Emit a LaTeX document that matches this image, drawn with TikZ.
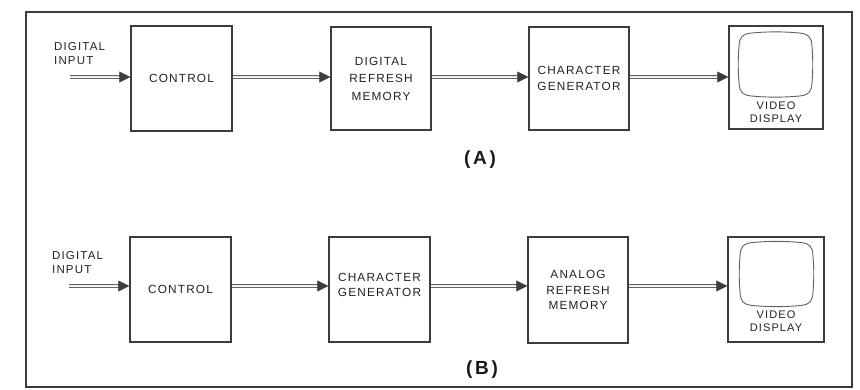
\documentclass[tikz,border=0pt]{standalone}
\usepackage{fontspec}
\usetikzlibrary{arrows.meta,calc}
\newfontfamily\lblfont{Liberation Sans}[LetterSpace=10]
\newfontfamily\capfont{Liberation Sans}[LetterSpace=14]
\definecolor{ink}{HTML}{222222}
\definecolor{lineink}{HTML}{3C3C3C}
\tikzset{
  blk/.style={draw=lineink, line width=1.4pt, text=ink, align=center, inner sep=0pt,
    font=\lblfont\fontsize{11.8}{16}\selectfont},
  blktext/.style={text=ink, align=center, inner sep=0pt, font=\lblfont\fontsize{11.8}{15.5}\selectfont},
  lbl/.style={text=ink, align=left, inner sep=0pt, font=\lblfont\fontsize{11.5}{14}\selectfont},
  vlbl/.style={text=ink, align=center, inner sep=0pt, font=\lblfont\fontsize{11}{13}\selectfont},
  tag/.style={text=black!90, inner sep=0pt, font=\capfont\bfseries\fontsize{19}{22}\selectfont},
  dblarrow/.style={draw=white, line width=0.6pt,
    -{Triangle[length=11pt,width=11pt,color=lineink]},
    preaction={draw=lineink!80, -, line width=0.7pt, double=white!90!black, double distance=2.6pt, shorten >=8pt}},
  frame/.style={draw=lineink, line width=1.5pt},
  crt/.style={draw=gray!75!black, line width=0.9pt}
}
\newcommand{\crtscreen}[2]{%
  \begin{scope}[shift={(#1,#2)}]
  \draw[crt] (-24,-31.5) .. controls (-8,-33) and (8,-33) .. (24,-31.5)
    .. controls (33,-30.5) and (36,-28) .. (36.5,-18)
    .. controls (37.5,-6) and (37.5,6) .. (36.5,18)
    .. controls (36,28) and (33,30.5) .. (24,31.5)
    .. controls (8,33) and (-8,33) .. (-24,31.5)
    .. controls (-33,30.5) and (-36,28) .. (-36.5,18)
    .. controls (-37.5,6) and (-37.5,-6) .. (-36.5,-18)
    .. controls (-36,-28) and (-33,-30.5) .. (-24,-31.5) -- cycle;
  \end{scope}}
\begin{document}
\begin{tikzpicture}[x=1pt,y=-1pt]
\useasboundingbox (0,0) rectangle (860,389);
\draw[frame] (26,12) rectangle (852,387);

% ---- (A) ----
\coordinate (rowA) at (0,77);
\coordinate (inA) at (70,77);
\node[lbl, anchor=west] (diA) at (54,54) {DIGITAL\\INPUT};
\node[blk, minimum width=101pt, minimum height=105pt] (ctrlA) at (181.5,78.5) {CONTROL};
\node[blk, minimum width=100pt, minimum height=103pt, font=\lblfont\fontsize{11.8}{17.5}\selectfont] (drmA) at (381,78.5) {DIGITAL\\REFRESH\\MEMORY};
\node[blk, minimum width=100pt, minimum height=103pt] (cgA) at (579,78.5) {CHARACTER\\GENERATOR};
\node[blk, minimum width=94pt, minimum height=103pt] (vdA) at (776,77.5) {};
\crtscreen{775.5}{64.5}
\node[vlbl] (vtA) at (776,112.5) {VIDEO\\DISPLAY};
\draw[dblarrow] (inA) -- (ctrlA.west |- rowA);
\draw[dblarrow] (ctrlA.east |- rowA) -- (drmA.west |- rowA);
\draw[dblarrow] (drmA.east |- rowA) -- (cgA.west |- rowA);
\draw[dblarrow] (cgA.east |- rowA) -- (vdA.west |- rowA);
\node[tag] (tA) at (480,160) {(A)};

% ---- (B) ----
\coordinate (rowB) at (0,286);
\coordinate (inB) at (69,286);
\node[lbl, anchor=west] (diB) at (52,262.5) {DIGITAL\\INPUT};
\node[blk, minimum width=101pt, minimum height=105pt] (ctrlB) at (180.5,289.5) {CONTROL};
\node[blk, minimum width=101pt, minimum height=105pt] (cgB) at (379.5,289.5) {};
\node[blktext] (cgBt) at ([yshift=4.5pt]cgB.center) {CHARACTER\\GENERATOR};
\node[blk, minimum width=100pt, minimum height=106pt, font=\lblfont\fontsize{11.8}{15.5}\selectfont] (armB) at (578,290) {ANALOG\\REFRESH\\MEMORY};
\node[blk, minimum width=96pt, minimum height=105pt] (vdB) at (776,289.5) {};
\crtscreen{776.5}{274}
\node[vlbl] (vtB) at (776,321.5) {VIDEO\\DISPLAY};
\draw[dblarrow] (inB) -- (ctrlB.west |- rowB);
\draw[dblarrow] (ctrlB.east |- rowB) -- (cgB.west |- rowB);
\draw[dblarrow] (cgB.east |- rowB) -- (armB.west |- rowB);
\draw[dblarrow] (armB.east |- rowB) -- (vdB.west |- rowB);
\node[tag] (tB) at (482,370) {(B)};
\end{tikzpicture}
\end{document}
